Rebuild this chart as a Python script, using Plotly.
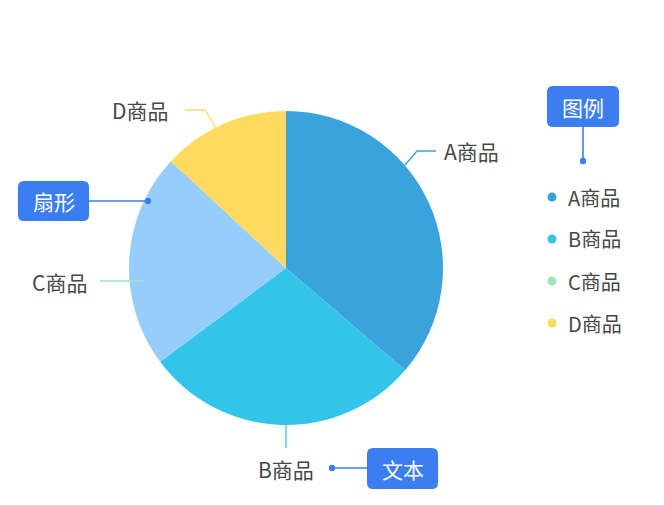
import plotly.graph_objects as go

W, H = 664, 505
OFF = 8  # page body margin
FW, FH = W - 2 * OFF, H - 2 * OFF

categories = ["A商品", "B商品", "C商品", "D商品"]
values = [36.3, 28.5, 22.1, 13.1]
slice_colors = ["#3AA3DB", "#32C5E9", "#96CDFA", "#FFDA5E"]
legend_colors = ["#37A2DA", "#32C5E9", "#9FE6B8", "#FFDB5C"]
callout_texts = ["图例", "扇形", "文本"]

FONT = "Noto Sans CJK SC, PingFang SC, Noto Sans, sans-serif"
TEXT_COLOR = "#474747"
CALLOUT = "#3B7EF1"


def px(x):
    return (x - OFF) / FW


def py(y):
    return 1 - (y - OFF) / FH


# pie geometry (pixels in page)
cx, cy, R = 286, 268, 157

fig = go.Figure()
fig.add_trace(go.Pie(
    labels=categories,
    values=values,
    marker=dict(colors=slice_colors, line=dict(width=0)),
    sort=False,
    direction="clockwise",
    rotation=0,
    textinfo="none",
    hoverinfo="label+value",
    showlegend=False,
    domain=dict(x=[px(cx - R), px(cx + R)], y=[py(cy + R), py(cy - R)]),
))

shapes = []
annotations = []

label_specs = [
    (0, [(405, 165), (417, 151), (436, 151)], 442, 151, "left"),
    (1, [(286, 425), (286, 448)], 286, 469, "center"),
    (2, [(143, 281), (100, 281)], 89, 282, "right"),
    (3, [(216, 128), (205, 110), (185, 110)], 170, 110, "right"),
]
for idx, pts, tx, ty, anchor in label_specs:
    path = "M " + " L ".join(f"{px(x)},{py(y)}" for x, y in pts)
    shapes.append(dict(type="path", xref="paper", yref="paper", path=path,
                       line=dict(color=legend_colors[idx], width=1.3)))
    annotations.append(dict(xref="paper", yref="paper", x=px(tx), y=py(ty),
                            text=categories[idx], showarrow=False,
                            xanchor=anchor, yanchor="middle",
                            font=dict(family=FONT, size=21, color=TEXT_COLOR)))

leg_x, leg_y0, leg_dy = 552, 197, 42
for i, (cat, col) in enumerate(zip(categories, legend_colors)):
    yy = leg_y0 + i * leg_dy
    shapes.append(dict(type="circle", xref="paper", yref="paper",
                       x0=px(leg_x - 4.5), x1=px(leg_x + 4.5),
                       y0=py(yy + 4.5), y1=py(yy - 4.5),
                       fillcolor=col, line=dict(width=0)))
    annotations.append(dict(xref="paper", yref="paper", x=px(566), y=py(yy),
                            text=cat, showarrow=False, xanchor="left",
                            yanchor="middle",
                            font=dict(family=FONT, size=20, color=TEXT_COLOR)))


def rounded_rect(x0, y0, x1, y1, r):
    pts = [
        f"M {px(x0 + r)},{py(y0)}",
        f"L {px(x1 - r)},{py(y0)}",
        f"Q {px(x1)},{py(y0)} {px(x1)},{py(y0 + r)}",
        f"L {px(x1)},{py(y1 - r)}",
        f"Q {px(x1)},{py(y1)} {px(x1 - r)},{py(y1)}",
        f"L {px(x0 + r)},{py(y1)}",
        f"Q {px(x0)},{py(y1)} {px(x0)},{py(y1 - r)}",
        f"L {px(x0)},{py(y0 + r)}",
        f"Q {px(x0)},{py(y0)} {px(x0 + r)},{py(y0)} Z",
    ]
    return " ".join(pts)


callouts = [
    ((547, 86, 619, 127), (583, 127), (583, 161)),
    ((18, 181, 89, 221), (89, 201), (148, 201)),
    ((367, 448, 438, 489), (367, 468), (332, 468)),
]
for text, (box, p0, p1) in zip(callout_texts, callouts):
    x0, y0, x1, y1 = box
    shapes.append(dict(type="line", xref="paper", yref="paper",
                       x0=px(p0[0]), y0=py(p0[1]), x1=px(p1[0]), y1=py(p1[1]),
                       line=dict(color=CALLOUT, width=1.6)))
    shapes.append(dict(type="circle", xref="paper", yref="paper",
                       x0=px(p1[0] - 3.2), x1=px(p1[0] + 3.2),
                       y0=py(p1[1] + 3.2), y1=py(p1[1] - 3.2),
                       fillcolor=CALLOUT, line=dict(width=0)))
    shapes.append(dict(type="path", xref="paper", yref="paper",
                       path=rounded_rect(x0, y0, x1, y1, 6),
                       fillcolor=CALLOUT, line=dict(width=0)))
    annotations.append(dict(xref="paper", yref="paper",
                            x=px((x0 + x1) / 2), y=py((y0 + y1) / 2),
                            text=text, showarrow=False, xanchor="center",
                            yanchor="middle",
                            font=dict(family=FONT, size=21, color="white")))

fig.update_layout(
    width=FW, height=FH,
    margin=dict(l=0, r=0, t=0, b=0),
    paper_bgcolor="white",
    plot_bgcolor="white",
    shapes=shapes,
    annotations=annotations,
    showlegend=False,
)

fig.write_html("out.html")
